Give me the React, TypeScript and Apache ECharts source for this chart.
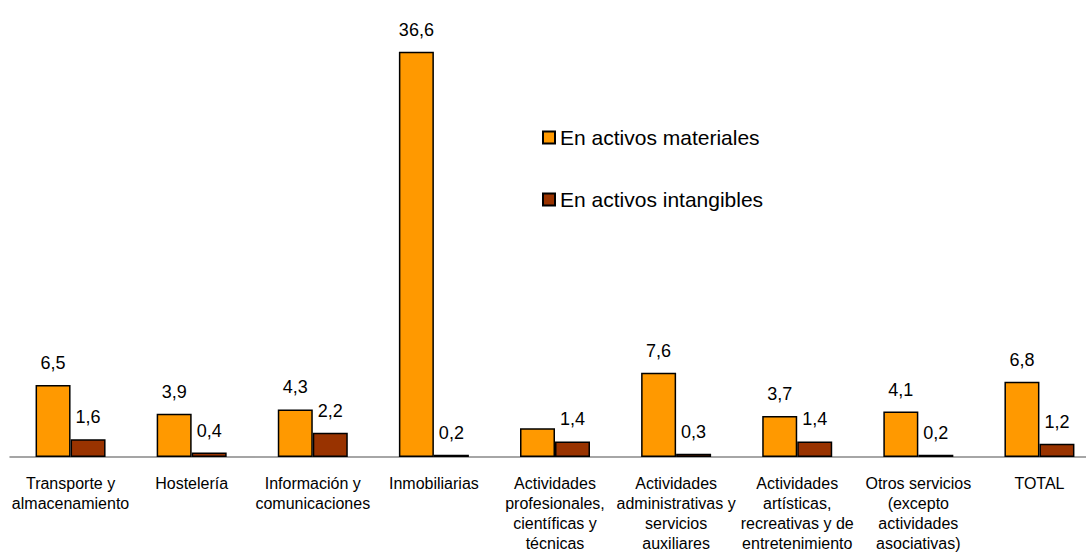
import React, { useEffect, useRef } from "react";
import * as echarts from "echarts";

const categories = [
  "Transporte y\nalmacenamiento",
  "Hostelería",
  "Información y\ncomunicaciones",
  "Inmobiliarias",
  "Actividades\nprofesionales,\ncientíficas y\ntécnicas",
  "Actividades\nadministrativas y\nservicios\nauxiliares",
  "Actividades\nartísticas,\nrecreativas y de\nentretenimiento",
  "Otros servicios\n(excepto\nactividades\nasociativas)",
  "TOTAL",
];
const materiales = [6.5, 3.9, 4.3, 36.6, 2.6, 7.6, 3.7, 4.1, 6.8];
const intangibles = [1.6, 0.4, 2.2, 0.2, 1.4, 0.3, 1.4, 0.2, 1.2];
const hiddenMaterialLabels = [4];
const seriesNames = ["En activos materiales", "En activos intangibles"];

const fmt = (v: number) => v.toFixed(1).replace(".", ",");

export default function App() {
  const ref = useRef<HTMLDivElement>(null);
  useEffect(() => {
    document.body.style.margin = "0";
    const chart = echarts.init(ref.current!, null, { renderer: "svg" });
    const labelStyle = {
      show: true,
      position: "top" as const,
      distance: 13,
      fontFamily: "Liberation Sans, Arial, sans-serif",
      fontSize: 18,
      color: "#000",
      formatter: (p: any) => fmt(p.value),
    };
    chart.setOption({
      animation: false,
      backgroundColor: "#fff",
      legend: {
        orient: "vertical",
        left: 537,
        top: 122,
        itemWidth: 12,
        itemHeight: 12,
        itemGap: 41,
        icon: "rect",
        textStyle: {
          fontFamily: "Liberation Sans, Arial, sans-serif",
          fontSize: 21,
          color: "#000",
        },
        data: seriesNames,
      },
      grid: {
        left: 10,
        width: 1090,
        top: 14,
        bottom: 95,
        containLabel: false,
        outerBoundsMode: "none",
      },
      xAxis: {
        type: "category",
        data: categories,
        axisLine: { lineStyle: { color: "#888", width: 1.5 } },
        axisTick: { show: false },
        axisLabel: {
          interval: 0,
          margin: 16,
          lineHeight: 20,
          fontFamily: "Liberation Sans, Arial, sans-serif",
          fontSize: 16,
          color: "#000",
          hideOverlap: false,
        },
      },
      yAxis: {
        type: "value",
        min: 0,
        max: 40,
        show: false,
        splitLine: { show: false },
      },
      series: [
        {
          name: seriesNames[0],
          type: "bar",
          barWidth: 35,
          barGap: "0%",
          itemStyle: { color: "#FF9900", borderColor: "#000", borderWidth: 1.5 },
          label: labelStyle,
          data: materiales.map((v, i) =>
            hiddenMaterialLabels.includes(i) ? { value: v, label: { show: false } } : v
          ),
        },
        {
          name: seriesNames[1],
          type: "bar",
          barWidth: 35,
          barGap: "0%",
          itemStyle: { color: "#993300", borderColor: "#000", borderWidth: 1.5 },
          label: labelStyle,
          data: intangibles,
        },
      ],
    });
    return () => chart.dispose();
  }, []);
  return <div ref={ref} style={{ width: 1086, height: 552 }} />;
}
